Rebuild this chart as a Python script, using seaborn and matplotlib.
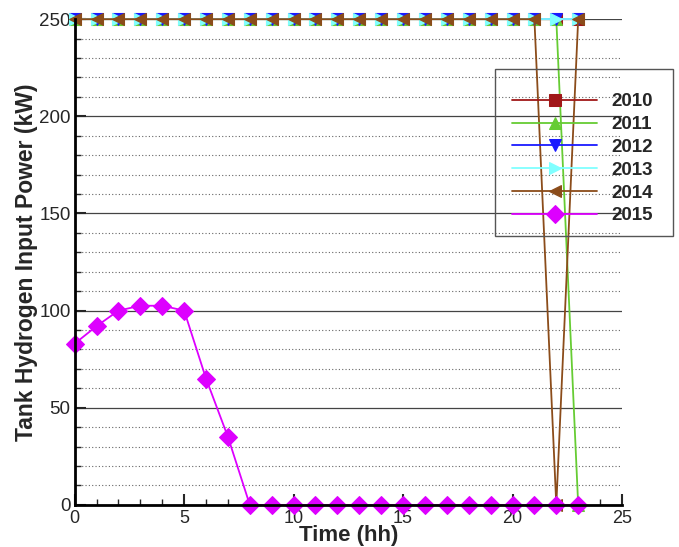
import matplotlib.pyplot as plt
import matplotlib.ticker as mticker
from matplotlib.patches import Rectangle
import pandas as pd
import seaborn as sns

sns.set_style('white')
plt.rcParams['font.family'] = ['Liberation Sans', 'DejaVu Sans']

# Data
hours = list(range(24))
years = ['2010', '2011', '2012', '2013', '2014', '2015']
p2010 = [250] * 24
p2011 = [250] * 23 + [0]
p2012 = [250] * 24
p2013 = [250] * 24
p2014 = [250] * 22 + [0, 250]
p2015 = [83, 92, 100, 102.5, 102.5, 100, 65, 35] + [0] * 16
series = [p2010, p2011, p2012, p2013, p2014, p2015]

colors = ['#a01818', '#66cc33', '#1a1aff', '#80ffff', '#8b4c1a', '#dd00ff']
markers = ['s', '^', 'v', '>', '<', 'D']

fig = plt.figure(figsize=(6.79, 5.47), dpi=100)
ax = fig.add_axes([0.110, 0.077, 0.806, 0.888])

for yr, vals, c, m in zip(years, series, colors, markers):
    df = pd.DataFrame({'Time': hours, 'Power': vals})
    sns.lineplot(data=df, x='Time', y='Power', ax=ax, color=c, marker=m,
                 markersize=9, markeredgecolor=c, linewidth=1.3, label=yr,
                 clip_on=False)

ax.set_xlim(0, 25)
ax.set_ylim(0, 250)
ax.xaxis.set_major_locator(mticker.MultipleLocator(5))
ax.xaxis.set_minor_locator(mticker.MultipleLocator(1))
ax.yaxis.set_major_locator(mticker.MultipleLocator(50))
ax.yaxis.set_minor_locator(mticker.MultipleLocator(10))

ax.grid(which='major', axis='y', color='#444444', linewidth=0.9, linestyle='-')
ax.grid(which='minor', axis='y', color='#666666', linewidth=0.8, linestyle=(0, (1, 2)))
ax.set_axisbelow(True)

for s in ['top', 'right']:
    ax.spines[s].set_visible(False)
for s in ['left', 'bottom']:
    ax.spines[s].set_linewidth(2)
    ax.spines[s].set_color('black')

ax.tick_params(which='major', direction='in', length=8, width=1.5, labelsize=13.5,
               left=True, bottom=True)
ax.tick_params(axis='y', which='major', pad=3)
ax.tick_params(axis='x', which='major', pad=4, labelsize=13)
ax.tick_params(which='minor', direction='in', length=4, width=1, left=True, bottom=True)

ax.set_xlabel('Time (hh)', fontsize=16, fontweight='bold', labelpad=-2)
ax.set_ylabel('Tank Hydrogen Input Power (kW)', fontsize=16.5, fontweight='bold', labelpad=1)

# legend entries without own frame; box drawn separately
leg = ax.legend(loc='upper left', bbox_to_anchor=(503 / 679, 1 - 84 / 547),
                bbox_transform=fig.transFigure, frameon=False,
                handlelength=4.5, handletextpad=0.8, labelspacing=0.3,
                prop={'weight': 'bold', 'size': 13.5}, borderpad=0.5,
                borderaxespad=0)
box = Rectangle((495 / 679, 1 - 236 / 547), 178 / 679, 167 / 547,
                transform=fig.transFigure, fill=False, edgecolor='#555555',
                linewidth=1)
fig.patches.append(box)

fig.savefig('out.png', dpi=100)
